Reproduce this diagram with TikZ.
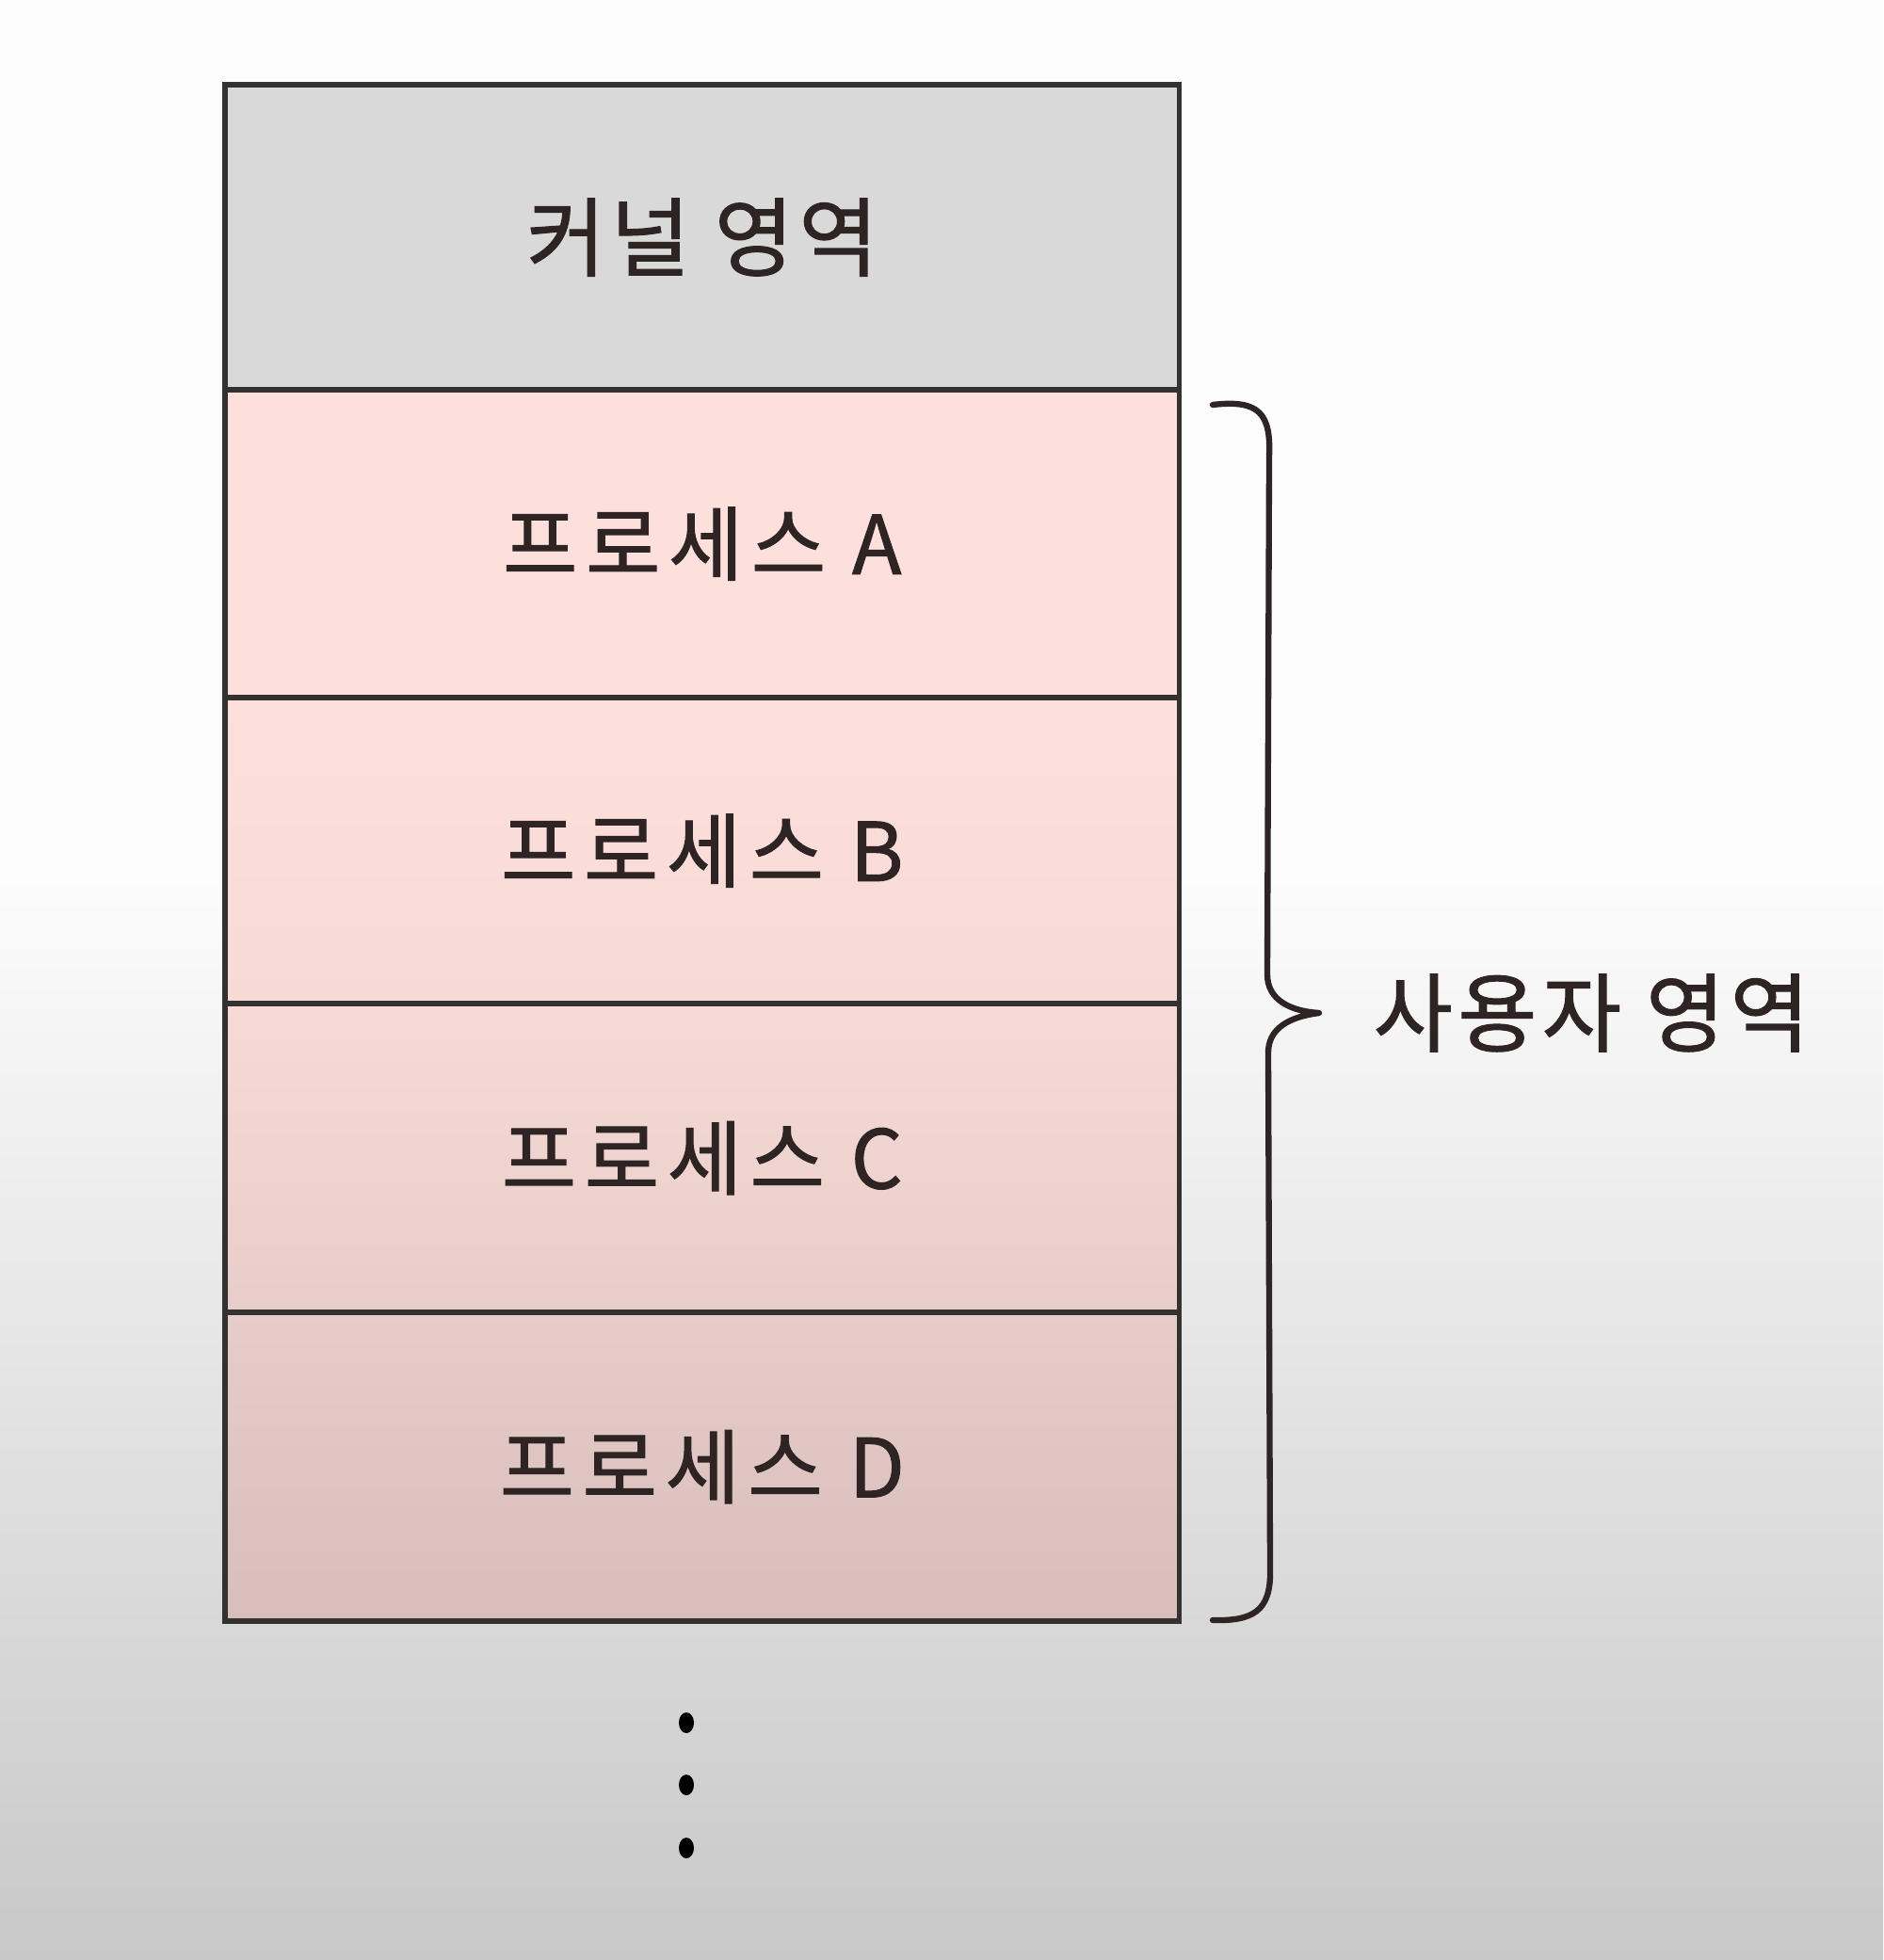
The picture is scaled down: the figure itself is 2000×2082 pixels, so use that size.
\documentclass[tikz,border=0pt]{standalone}
\usepackage{fontspec}
\newfontfamily\kr[LetterSpace=6,FakeBold=1.2]{Noto Sans CJK KR}
\newfontfamily\krwide[LetterSpace=10,FakeBold=1.2]{Noto Sans CJK KR}
\definecolor{bgtop}{HTML}{FCFCFC}
\definecolor{bgbot}{HTML}{C8C8C8}
\definecolor{kgray}{HTML}{D9D9D9}
\definecolor{pinkA}{HTML}{FDE0DC}
\definecolor{pinkB}{HTML}{F7DAD6}
\definecolor{pinkC}{HTML}{E7CDC9}
\definecolor{pinkD}{HTML}{D7BEBB}
\definecolor{edge}{HTML}{353131}
\definecolor{ink}{HTML}{2E2424}
\begin{document}
\begin{tikzpicture}[x=0.01cm,y=-0.01cm,
  region/.style={draw=edge,line width=1.6pt,rectangle,inner sep=0pt,outer sep=0pt,
    minimum width=10.13cm,anchor=north west,text=ink,
    font=\krwide\fontsize{24.5}{28}\selectfont},
  bracepath/.style={draw=ink,line width=1.8pt,line cap=round,line join=round},
  dotmark/.style={fill=black}]
\useasboundingbox (0,0) rectangle (2000,2082);
% background
\fill[bgtop] (0,0) rectangle (2000,930);
\shade[top color=bgtop,bottom color=bgbot,draw=none] (0,929) rectangle (2000,2082);
% regions
\node[region,fill=kgray,minimum height=3.24cm,font=\kr\fontsize{26}{30}\selectfont] (kern) at (239,90) {커널 영역};
\node[region,fill=pinkA,minimum height=3.27cm] (pa) at (239,414) {프로세스 A};
\node[region,top color=pinkA,bottom color=pinkB,draw=edge,minimum height=3.25cm] (pb) at (239,741) {프로세스 B};
\node[region,top color=pinkB,bottom color=pinkC,draw=edge,minimum height=3.28cm] (pc) at (239,1066) {프로세스 C};
\node[region,top color=pinkC,bottom color=pinkD,draw=edge,minimum height=3.28cm] (pd) at (239,1394) {프로세스 D};
% brace
\coordinate (btop) at (1288,430);
\coordinate (btip) at (1401,1076);
\coordinate (bbot) at (1288,1721);
\draw[bracepath] (btop) .. controls (1338,424) and (1350,440) .. (1348,485)
  -- (1346,1035) .. controls (1346,1062) and (1370,1074) .. (btip)
  .. controls (1370,1080) and (1346,1092) .. (1347,1120)
  -- (1349,1668) .. controls (1350,1712) and (1330,1722) .. (bbot);
\node[anchor=west,text=ink,font=\kr\fontsize{26}{30}\selectfont,inner sep=0pt] (user) at (1458,1076) {사용자 영역};
% dots
\fill[dotmark] (729,1830) ellipse (8 and 11);
\fill[dotmark] (729,1896) ellipse (8 and 11);
\fill[dotmark] (729,1963) ellipse (8 and 11);
\end{tikzpicture}
\end{document}
